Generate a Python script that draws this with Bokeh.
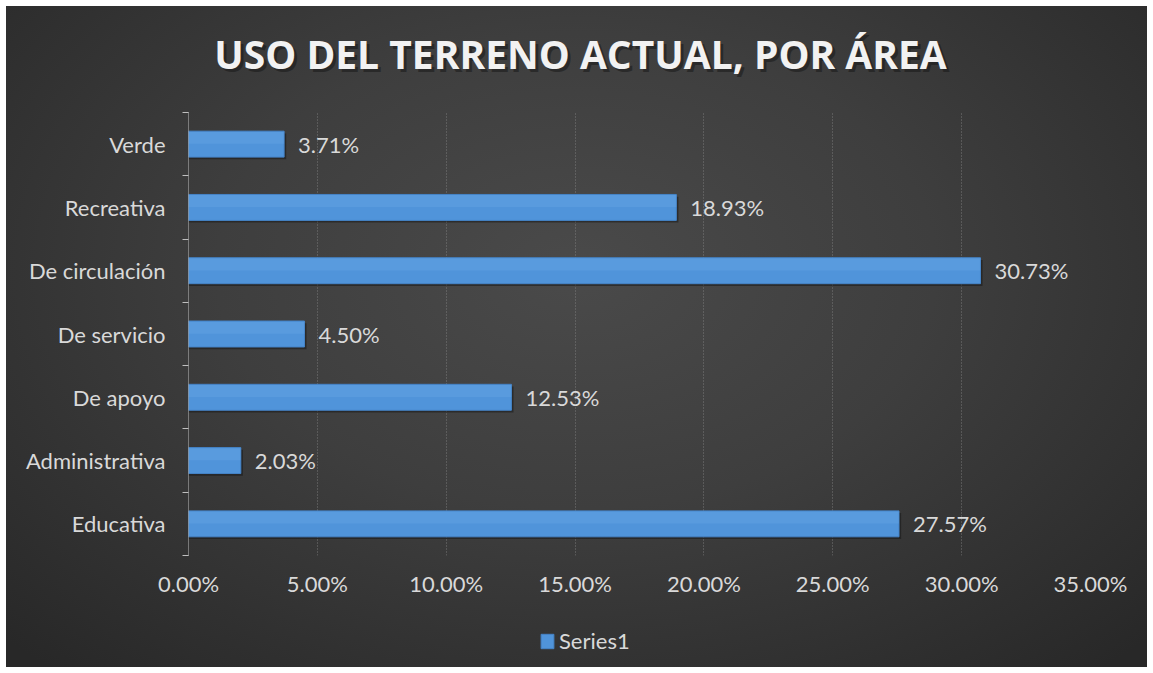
from bokeh.plotting import figure
from bokeh.layouts import column
from bokeh.models import (ColumnDataSource, FixedTicker, PrintfTickFormatter, Legend, LegendItem,
                          Range1d, Label)
from bokeh.transform import dodge
from bokeh.core.properties import value
from bokeh.embed import file_html
from bokeh.resources import INLINE

# ---- data (bottom to top) ----
categories = ["Educativa", "Administrativa", "De apoyo", "De servicio",
              "De circulación", "Recreativa", "Verde"]
values = [27.57, 2.03, 12.53, 4.50, 30.73, 18.93, 3.71]
x_ticks = [0, 5, 10, 15, 20, 25, 30, 35]
series_name = "Series1"
title_text = "USO DEL TERRENO ACTUAL, POR ÁREA"

FONT = "Lato"
FS = "22px"
TXT = "#d9d9d9"
BAR = "#5094da"
W = 1141
LEFT, RIGHT = 182, 57   # frames of all strips are aligned to these borders


def blank(fig):
    fig.border_fill_alpha = 0
    fig.background_fill_alpha = 0
    fig.outline_line_color = None
    fig.axis.visible = False
    fig.grid.visible = False


# ---- title strip ----
tfig = figure(width=W, height=106, output_backend="svg", toolbar_location=None,
              x_range=Range1d(0, 1), y_range=Range1d(0, 1),
              min_border_left=LEFT, min_border_right=RIGHT,
              min_border_top=0, min_border_bottom=0)
blank(tfig)
for dx, dy, col, alpha in [(3, -3, "#151515", 0.5), (0, 0, "#f2f2f2", 1.0)]:
    tfig.add_layout(Label(x=392 + dx, y=59 + dy, x_units="screen", y_units="screen",
                          text=title_text, text_align="center", text_baseline="middle",
                          text_font="Open Sans", text_font_style="bold",
                          text_font_size="39px", text_color=col, text_alpha=alpha))

# ---- main chart ----
ypos = [i + 0.5 for i in range(len(categories))]
src = ColumnDataSource(dict(
    y=ypos, v=values, cat=categories,
    lbl=[f"{v:.2f}%" for v in values],
))

p = figure(width=W, height=503, output_backend="svg", toolbar_location=None,
           x_range=Range1d(0, 35), y_range=Range1d(0, len(categories)),
           min_border_left=LEFT, min_border_right=RIGHT, min_border_top=0, min_border_bottom=60)
p.border_fill_alpha = 0
p.background_fill_alpha = 0
p.outline_line_color = None

p.hbar(y=dodge("y", -0.035, range=p.y_range), right=dodge("v", 0.08, range=p.x_range),
       left=0, height=0.41, source=src,
       fill_color="#141414", fill_alpha=0.5, line_color=None)
r = p.hbar(y="y", right="v", left=0, height=0.41, source=src,
           fill_color=BAR, line_color="#4584c8", line_width=1)
p.hbar(y=dodge("y", 0.1, range=p.y_range), right="v", left=0, height=0.19, source=src,
       fill_color="#6aa9e6", fill_alpha=0.35, line_color=None)

p.text(x="v", y="y", text="lbl", source=src, x_offset=14,
       text_font=value(FONT), text_font_size=FS, text_color=TXT,
       text_baseline="middle", text_align="left")

xa = p.xaxis[0]
xa.ticker = FixedTicker(ticks=x_ticks)
xa.formatter = PrintfTickFormatter(format="%.2f%%")
xa.axis_line_color = None
xa.major_tick_line_color = None
xa.minor_tick_line_color = None
xa.major_label_text_font = FONT
xa.major_label_text_font_size = FS
xa.major_label_text_color = TXT
xa.major_label_standoff = 8

ya = p.yaxis[0]
ya.ticker = FixedTicker(ticks=ypos, minor_ticks=list(range(len(categories) + 1)))
ya.major_label_overrides = {y: c for y, c in zip(ypos, categories)}
ya.axis_line_color = "#bfbfbf"
ya.axis_line_dash = "1 1"
ya.major_tick_line_color = None
ya.minor_tick_line_color = "#bfbfbf"
ya.minor_tick_out = 6
ya.minor_tick_in = 0
ya.major_label_text_font = FONT
ya.major_label_text_font_size = FS
ya.major_label_text_color = TXT
ya.major_label_standoff = 17

p.ygrid.grid_line_color = None
p.xgrid.ticker = FixedTicker(ticks=x_ticks[1:])
p.xgrid.grid_line_color = "#8c8c8c"
p.xgrid.grid_line_dash = "1 2"
p.xgrid.grid_line_alpha = 0.75

# ---- legend strip ----
lfig = figure(width=W, height=52, output_backend="svg", toolbar_location=None,
              x_range=Range1d(0, 1), y_range=Range1d(0, 1),
              min_border_left=LEFT, min_border_right=RIGHT,
              min_border_top=0, min_border_bottom=0)
blank(lfig)
# legend swatch renderer: a series-coloured bar kept outside the visible range
lr = lfig.hbar(y=[-5], right=[1], left=0, height=0.4, fill_color=BAR, line_color="#4584c8")
legend = Legend(items=[LegendItem(label=series_name, renderers=[lr])],
                orientation="horizontal", location=(351, 13),
                label_text_font=FONT, label_text_font_size=FS, label_text_color=TXT,
                glyph_width=16, glyph_height=18, label_standoff=4,
                background_fill_alpha=0, border_line_color=None, margin=0, padding=2)
lfig.add_layout(legend, "center")

layout = column(tfig, p, lfig, spacing=0)
layout.margin = (6, 6, 6, 6)
layout.styles = {"background": "radial-gradient(ellipse 70% 80% at 50% 40%, #4a4a4a 0%, #3e3e3e 45%, #282828 100%)"}

open("out.html", "w").write(file_html(layout, INLINE))
